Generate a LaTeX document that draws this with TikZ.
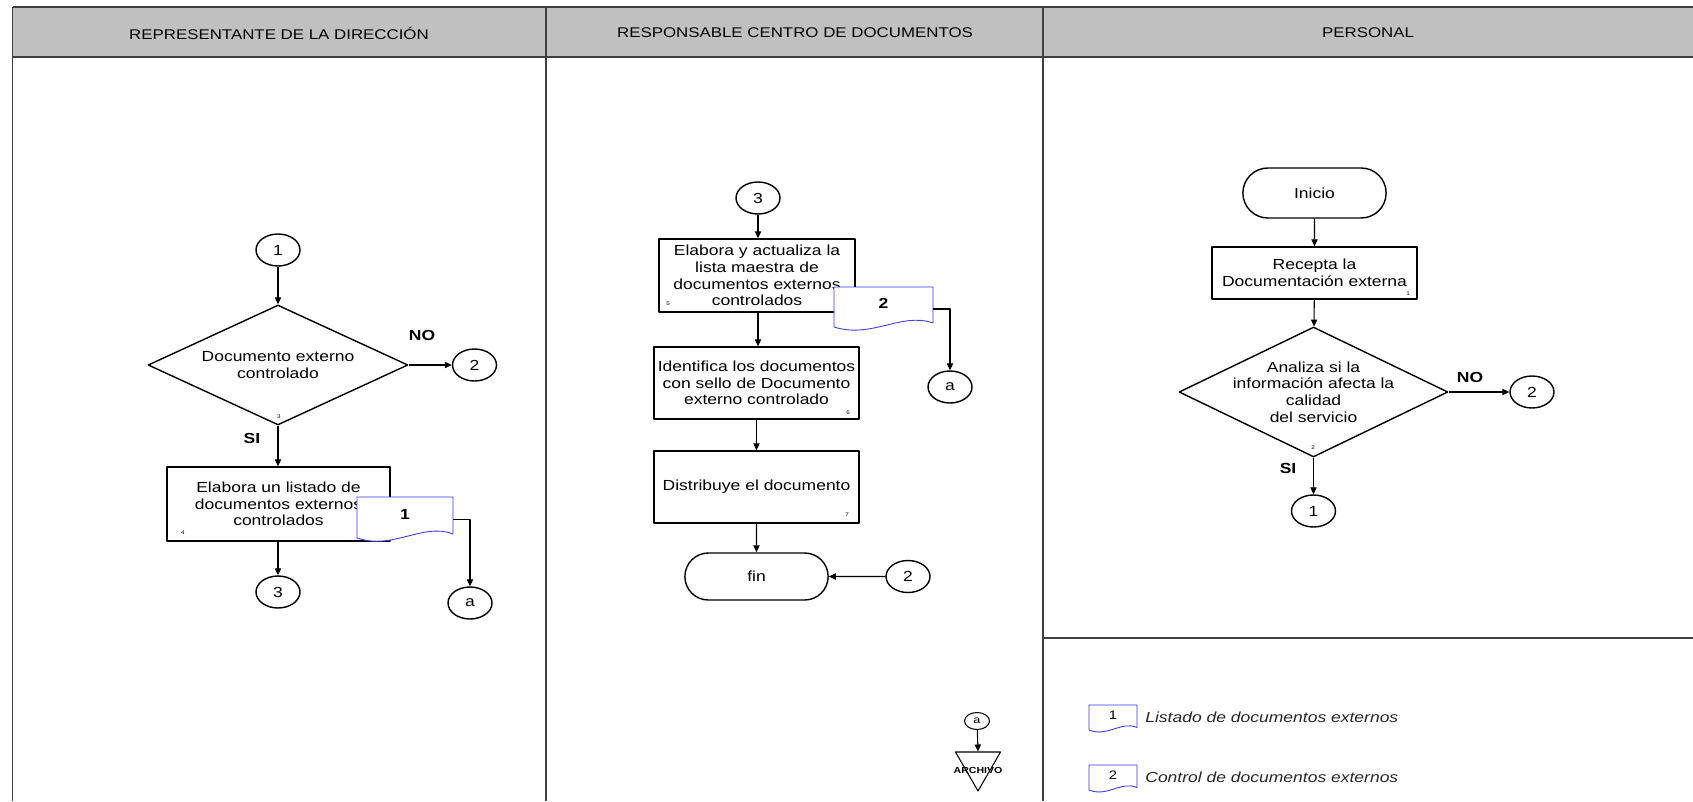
\documentclass[tikz,border=0pt]{standalone}
\usepackage{fontspec}
\setmainfont[FakeStretch=1.2]{Liberation Sans}
\usetikzlibrary{arrows.meta,shapes.geometric,shapes.misc}

\definecolor{hdrgray}{HTML}{C0C0C0}
\definecolor{docblue}{HTML}{3A3AF0}

\newcommand{\boxfont}{\fontsize{8.3}{9.5}\selectfont}
\newcommand{\headfont}{\fontsize{8}{9.5}\selectfont}

% document symbol: name, left, top, width, height, number
\newcommand{\docsheet}[6]{%
  \draw[docline] (#2,#3+#5) -- (#2,#3) -- (#2+#4,#3) -- (#2+#4,#3+0.9*#5)
    .. controls (#2+0.68*#4,#3+0.62*#5) and (#2+0.38*#4,#3+1.3*#5) .. (#2,#3+#5) -- cycle;
  \node[docnum] (#1) at (#2+0.5*#4,#3+0.42*#5) {#6};
  \coordinate (#1-out) at (#2+#4,#3+0.55*#5);
}

\begin{document}
\begin{tikzpicture}[x=0.02cm,y=-0.02cm,line join=round,
  lane/.style={draw=black!75,line width=1.1pt},
  proc/.style={draw,line width=0.8pt,align=center,inner sep=0pt,font=\boxfont},
  dec/.style={draw,diamond,line width=0.8pt,inner sep=0pt},
  term/.style={draw,rounded rectangle,line width=0.8pt,minimum width=3.1cm,font=\boxfont},
  conn/.style={draw,ellipse,line width=0.8pt,inner sep=0pt,
    minimum width=0.88cm,minimum height=0.64cm,font=\boxfont},
  flow/.style={-{Triangle[length=4pt,width=3.6pt]},line width=0.6pt},
  docline/.style={draw=docblue,line width=0.5pt,fill=white},
  docnum/.style={inner sep=0pt,font=\boxfont\bfseries},
  stepno/.style={inner sep=0pt,font=\fontsize{3}{3}\selectfont},
  answer/.style={inner sep=0pt,font=\boxfont\bfseries},
  legendtxt/.style={anchor=west,inner sep=0pt,text=black!85,font=\boxfont\itshape}]

  \useasboundingbox (0,0) rectangle (1693,801);

  % lanes
  \fill[hdrgray] (12.5,7) rectangle (1693,57);
  \draw[lane] (12.5,7) -- (1693,7);
  \draw[lane] (12.5,57) -- (1693,57);
  \foreach \x in {12.5,546,1043}
    \draw[lane] (\x,7) -- (\x,801);
  \draw[lane] (1043,638) -- (1693,638);
  \node[font=\headfont] (h1) at (279,33) {REPRESENTANTE DE LA DIRECCIÓN};
  \node[font=\headfont] (h2) at (795,33) {RESPONSABLE CENTRO DE DOCUMENTOS};
  \node[font=\headfont] (h3) at (1368,33) {PERSONAL};

  % personal
  \node[term,minimum height=1cm] (inicio) at (1314.5,193) {Inicio};
  \node[proc,minimum width=4.1cm,minimum height=1.04cm] (recepta) at (1314.5,273)
    {Recepta la\\Documentación externa};
  \node[stepno] (s1) at (1408,294) {1};
  \node[dec,minimum width=5.38cm,minimum height=2.6cm,
    label={[font=\boxfont,align=center]center:{Analiza si la\\información afecta la\\calidad\\del servicio}}]
    (analiza) at (1313.5,392) {};
  \node[stepno] (s2) at (1313,448) {2};
  \node[conn] (c2r) at (1532,392) {2};
  \node[conn] (c1r) at (1313.5,511) {1};
  \node[answer] (nor) at (1470,377) {NO};
  \node[answer] (sir) at (1288,468) {SI};
  \draw[flow] (inicio) -- (recepta);
  \draw[flow] (recepta) -- (analiza);
  \draw[flow] (analiza.east) -- (c2r);
  \draw[flow] (analiza.south) -- (c1r);

  % representante de la direccion
  \node[conn] (c1l) at (278,250) {1};
  \node[dec,minimum width=5.2cm,minimum height=2.4cm,
    label={[font=\boxfont,align=center]center:{Documento externo\\controlado}}]
    (doccontrol) at (278,365) {};
  \node[stepno] (s3) at (279,417) {3};
  \node[conn] (c2l) at (474.5,365) {2};
  \node[answer] (nol) at (422,335) {NO};
  \node[answer] (sil) at (252,438) {SI};
  \node[proc,minimum width=4.46cm,minimum height=1.48cm] (listado) at (278.5,504)
    {Elabora un listado de\\documentos externos\\controlados};
  \node[stepno] (s4) at (183,533) {4};
  \docsheet{doc1}{357}{497}{96}{41}{1}
  \node[conn] (c3l) at (278,592) {3};
  \node[conn] (a1) at (470,603) {a};
  \draw[flow] (c1l) -- (doccontrol);
  \draw[flow] (doccontrol.east) -- (c2l);
  \draw[flow] (doccontrol.south) -- (listado.north -| doccontrol.south);
  \draw[flow] (listado.south -| c3l) -- (c3l);
  \draw[flow] (doc1-out) -| (a1);

  % responsable centro de documentos
  \node[conn] (c3m) at (758,198) {3};
  \node[proc,minimum width=3.92cm,minimum height=1.46cm] (lista) at (757,275.5)
    {Elabora y actualiza la\\lista maestra de\\documentos externos\\controlados};
  \node[stepno] (s5) at (668,304) {5};
  \docsheet{doc2}{834}{287}{99}{40}{2}
  \node[conn] (a2) at (950,387) {a};
  \node[proc,minimum width=4.1cm,minimum height=1.44cm] (identifica) at (756.5,383)
    {Identifica los documentos\\con sello de Documento\\externo controlado};
  \node[stepno] (s6) at (848,413) {6};
  \node[proc,minimum width=4.1cm,minimum height=1.44cm] (distribuye) at (756.5,487)
    {Distribuye el documento};
  \node[stepno] (s7) at (847,515) {7};
  \node[term,minimum height=0.94cm] (fin) at (756.5,576.5) {fin};
  \node[conn] (c2m) at (908,576.5) {2};
  \draw[flow] (c3m) -- (lista.north -| c3m);
  \draw[flow] (lista.south -| c3m) -- (identifica.north -| c3m);
  \draw[flow] (identifica) -- (distribuye);
  \draw[flow] (distribuye) -- (fin);
  \draw[flow] (c2m) -- (fin);
  \draw[flow] (doc2-out) -| (a2);

  % archivo
  \node[draw,ellipse,line width=0.6pt,inner sep=0pt,minimum width=0.5cm,minimum height=0.34cm,
    font=\fontsize{6}{6}\selectfont] (aarch) at (977,721) {a};
  \node[draw,regular polygon,regular polygon sides=3,shape border rotate=180,
    line width=0.6pt,inner sep=0pt,minimum size=1.04cm] (archivo) at (978,765) {};
  \node[inner sep=0pt,font=\fontsize{5}{5}\selectfont\bfseries] (archtxt) at (978,770) {ARCHIVO};
  \draw[flow] (aarch) -- (archivo.north);

  % leyenda
  \docsheet{ley1}{1089}{705}{48}{25}{\fontsize{7}{7}\selectfont\mdseries 1}
  \docsheet{ley2}{1089}{765}{48}{25}{\fontsize{7}{7}\selectfont\mdseries 2}
  \node[legendtxt] (t1) at (1145,717) {Listado de documentos externos};
  \node[legendtxt] (t2) at (1145,777) {Control de documentos externos};
\end{tikzpicture}
\end{document}
